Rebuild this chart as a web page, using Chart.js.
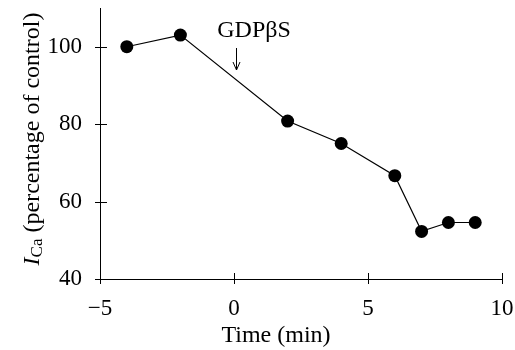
<!DOCTYPE html>
<html>
<head>
<meta charset="utf-8">
<script src="https://cdn.jsdelivr.net/npm/chart.js@4"></script>
<style>
  html, body { margin: 0; padding: 0; background: #fff; }
  #wrap { width: 515px; height: 350px; }
</style>
</head>
<body>
<div id="wrap"><canvas id="grafico"></canvas></div>
<script>
// datos
const tiempos = [-4, -2, 2, 4, 6, 7, 8, 9];
const corriente = [100, 103, 80.8, 75, 66.7, 52.3, 54.6, 54.6];
const ticksX = [-5, 0, 5, 10];
const ticksY = [40, 60, 80, 100];
const marcaTexto = "GDPβS";
const marcaTiempo = 0;

const fuente = "'Liberation Serif', 'Times New Roman', serif";

// ticks que cruzan el eje (hacia adentro y afuera)
const ticksCruzados = {
  id: "ticksCruzados",
  afterDraw(chart) {
    const { ctx, scales, chartArea } = chart;
    ctx.save();
    ctx.strokeStyle = "#000";
    ctx.lineWidth = 1;
    ctx.beginPath();
    ticksX.forEach((v) => {
      const x = Math.round(scales.x.getPixelForValue(v)) + 0.5;
      ctx.moveTo(x, chartArea.bottom - 6);
      ctx.lineTo(x, chartArea.bottom + 5);
    });
    ticksY.forEach((v) => {
      const y = Math.round(scales.y.getPixelForValue(v)) + 0.5;
      ctx.moveTo(chartArea.left - 5, y);
      ctx.lineTo(chartArea.left + 7, y);
    });
    ctx.stroke();
    ctx.restore();
  },
};

// titulos y anotacion
const textos = {
  id: "textos",
  afterDraw(chart) {
    const { ctx, scales } = chart;
    ctx.save();
    ctx.fillStyle = "#000";
    ctx.strokeStyle = "#000";

    // titulo eje x
    ctx.font = `24px ${fuente}`;
    ctx.textAlign = "center";
    ctx.textBaseline = "alphabetic";
    ctx.fillText("Time (min)", 276, 342);

    // titulo eje y con subindice
    ctx.translate(39, 139);
    ctx.rotate(-Math.PI / 2);
    const partes = [
      { t: "I", f: `italic 24px ${fuente}`, dy: 0 },
      { t: "Ca", f: `17px ${fuente}`, dy: 3 },
      { t: " (percentage of control)", f: `24px ${fuente}`, dy: 0 },
    ];
    let total = 0;
    partes.forEach((p) => {
      ctx.font = p.f;
      p.w = ctx.measureText(p.t).width;
      total += p.w;
    });
    let x = -total / 2;
    ctx.textAlign = "left";
    partes.forEach((p) => {
      ctx.font = p.f;
      ctx.fillText(p.t, x, p.dy);
      x += p.w;
    });
    ctx.setTransform(1, 0, 0, 1, 0, 0);

    // anotacion GDPbS con flecha
    const xm = Math.round(scales.x.getPixelForValue(marcaTiempo)) + 0.5;
    ctx.font = `24px ${fuente}`;
    ctx.textAlign = "center";
    ctx.fillText(marcaTexto, 254, 37);
    ctx.lineWidth = 1;
    ctx.beginPath();
    ctx.moveTo(xm + 2, 48);
    ctx.lineTo(xm + 2, 70);
    ctx.moveTo(xm - 1.5, 62);
    ctx.lineTo(xm + 2, 70);
    ctx.lineTo(xm + 5.5, 62);
    ctx.stroke();
    ctx.restore();
  },
};

new Chart(document.getElementById("grafico"), {
  type: "line",
  data: {
    datasets: [
      {
        data: tiempos.map((t, i) => ({ x: t, y: corriente[i] })),
        borderColor: "#000",
        borderWidth: 1.2,
        backgroundColor: "#000",
        pointBackgroundColor: "#000",
        pointBorderColor: "#000",
        pointRadius: 6.5,
        pointBorderWidth: 0,
        tension: 0,
      },
    ],
  },
  options: {
    responsive: true,
    maintainAspectRatio: false,
    animation: false,
    events: [],
    layout: { padding: { top: 8, right: 13, left: 0, bottom: 0 } },
    plugins: {
      legend: { display: false },
      tooltip: { enabled: false },
    },
    scales: {
      x: {
        type: "linear",
        min: -5,
        max: 10,
        afterBuildTicks: (escala) => {
          escala.ticks = ticksX.map((v) => ({ value: v }));
        },
        afterFit: (escala) => {
          escala.height = 71;
          escala.paddingRight = 0;
          escala.paddingLeft = 0;
        },
        grid: { display: false },
        border: { display: true, color: "#000", width: 1 },
        ticks: {
          color: "#000",
          font: { family: fuente, size: 23 },
          padding: 8,
          maxRotation: 0,
          callback: (v) => String(v).replace("-", "\u2212"),
        },
      },
      y: {
        type: "linear",
        min: 40,
        max: 110,
        afterBuildTicks: (escala) => {
          escala.ticks = ticksY.map((v) => ({ value: v }));
        },
        afterFit: (escala) => {
          escala.width = 100;
          escala.paddingTop = 0;
          escala.paddingBottom = 0;
        },
        grid: { display: false },
        border: { display: true, color: "#000", width: 1 },
        ticks: {
          color: "#000",
          font: { family: fuente, size: 23 },
          padding: 10,
        },
      },
    },
  },
  plugins: [ticksCruzados, textos],
});
</script>
</body>
</html>
